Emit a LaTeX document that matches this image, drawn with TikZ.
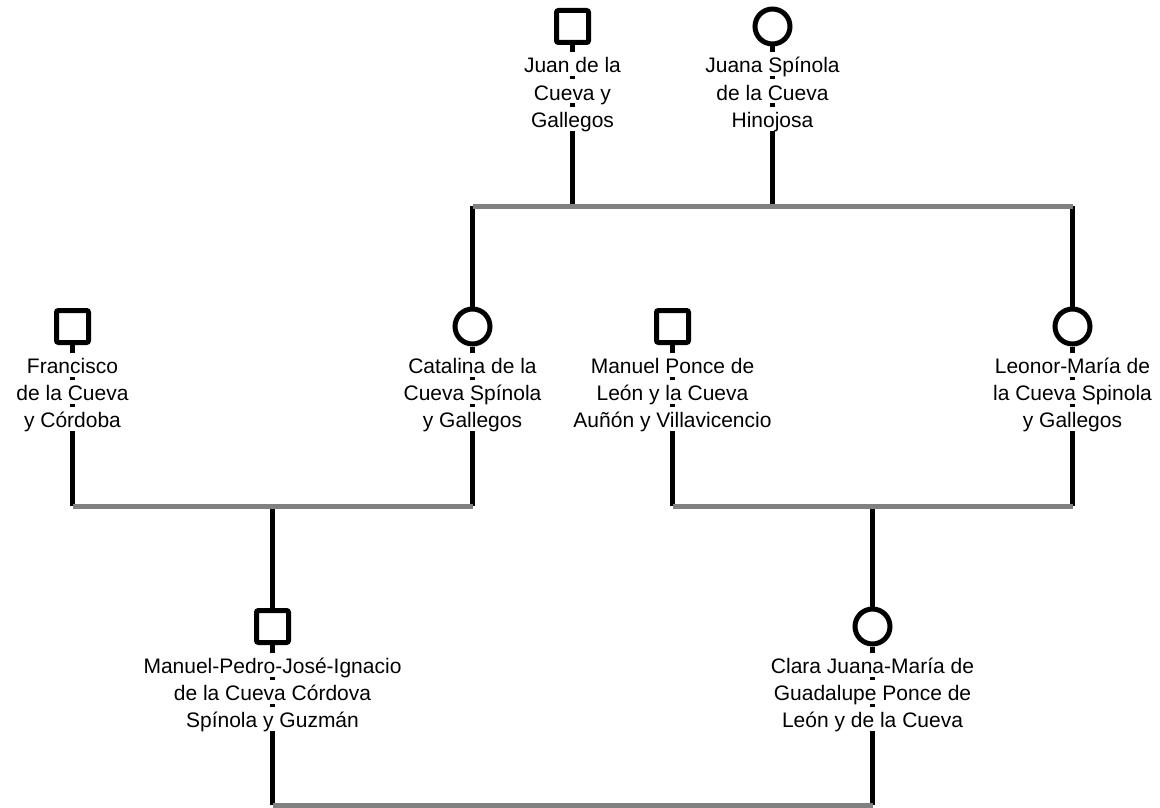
\documentclass[tikz,border=0pt]{standalone}
\usepackage{fontspec}
\setmainfont{Liberation Sans}
\definecolor{bargray}{RGB}{128,128,128}
\begin{document}
\begin{tikzpicture}[x=1pt,y=-1pt,
  male/.style={draw=black,line width=5pt,rounded corners=2pt,minimum size=32pt,inner sep=0pt,fill=white},
  female/.style={circle,draw=black,line width=5pt,minimum size=35pt,inner sep=0pt,fill=white},
  link/.style={draw=black,line width=5pt},
  famline/.style={draw=bargray,line width=5pt},
  lbl/.style={fill=white,inner sep=0pt,anchor=base,text height=20.5pt,text depth=3.5pt,font=\fontsize{21}{27}\selectfont}]
\useasboundingbox[fill=white] (0,0) rectangle (1160,808);
% persons
\node[male]   (juan)   at (572.5,26.5) {};
\node[female] (juana)  at (772.5,26.5) {};
\node[male]   (fran)   at (72.5,326.5) {};
\node[female] (cata)   at (472.5,326.5) {};
\node[male]   (mponce) at (672.5,326.5) {};
\node[female] (leonor) at (1072.5,326.5) {};
\node[male]   (mpedro) at (272.5,626.5) {};
\node[female] (clara)  at (872.5,626.5) {};
% bar points
\coordinate (b1l) at (472.5,206);
\coordinate (b1a) at (572.5,206);
\coordinate (b1b) at (772.5,206);
\coordinate (b1r) at (1072.5,206);
\coordinate (b2l) at (72.5,506);
\coordinate (b2c) at (272.5,506);
\coordinate (b2r) at (472.5,506);
\coordinate (b3l) at (672.5,506);
\coordinate (b3c) at (872.5,506);
\coordinate (b3r) at (1072.5,506);
\coordinate (b4l) at (272.5,805);
\coordinate (b4r) at (872.5,805);
% links
\draw[link] (juan.south) -- (b1a);
\draw[link] (juana.south) -- (b1b);
\draw[link] (b1l) -- (cata.north);
\draw[link] (b1r) -- (leonor.north);
\draw[link] (fran.south) -- (b2l);
\draw[link] (cata.south) -- (b2r);
\draw[link] (b2c) -- (mpedro.north);
\draw[link] (mponce.south) -- (b3l);
\draw[link] (leonor.south) -- (b3r);
\draw[link] (b3c) -- (clara.north);
\draw[link] (mpedro.south) -- (b4l);
\draw[link] (clara.south) -- (b4r);
% family bars
\draw[famline] (b1l) -- (b1r);
\draw[famline] (b2l) -- (b2r);
\draw[famline] (b3l) -- (b3r);
\draw[famline] (b4l) -- (b4r);
% labels
\node[lbl] (juan1) at (572.5,73) {Juan de la};
\node[lbl] (juan2) at (572.5,100) {Cueva y};
\node[lbl] (juan3) at (572.5,127) {Gallegos};
\node[lbl] (juana1) at (772.5,73) {Juana Spínola};
\node[lbl] (juana2) at (772.5,100) {de la Cueva};
\node[lbl] (juana3) at (772.5,127) {Hinojosa};
\node[lbl] (fran1) at (72.5,373) {Francisco};
\node[lbl] (fran2) at (72.5,400) {de la Cueva};
\node[lbl] (fran3) at (72.5,427) {y Córdoba};
\node[lbl] (cata1) at (472.5,373) {Catalina de la};
\node[lbl] (cata2) at (472.5,400) {Cueva Spínola};
\node[lbl] (cata3) at (472.5,427) {y Gallegos};
\node[lbl] (mponce1) at (672.5,373) {Manuel Ponce de};
\node[lbl] (mponce2) at (672.5,400) {León y la Cueva};
\node[lbl] (mponce3) at (672.5,427) {Auñón y Villavicencio};
\node[lbl] (leonor1) at (1072.5,373) {Leonor-María de};
\node[lbl] (leonor2) at (1072.5,400) {la Cueva Spinola};
\node[lbl] (leonor3) at (1072.5,427) {y Gallegos};
\node[lbl] (mpedro1) at (272.5,673) {Manuel-Pedro-José-Ignacio};
\node[lbl] (mpedro2) at (272.5,700) {de la Cueva Córdova};
\node[lbl] (mpedro3) at (272.5,727) {Spínola y Guzmán};
\node[lbl] (clara1) at (872.5,673) {Clara Juana-María de};
\node[lbl] (clara2) at (872.5,700) {Guadalupe Ponce de};
\node[lbl] (clara3) at (872.5,727) {León y de la Cueva};
\end{tikzpicture}
\end{document}
